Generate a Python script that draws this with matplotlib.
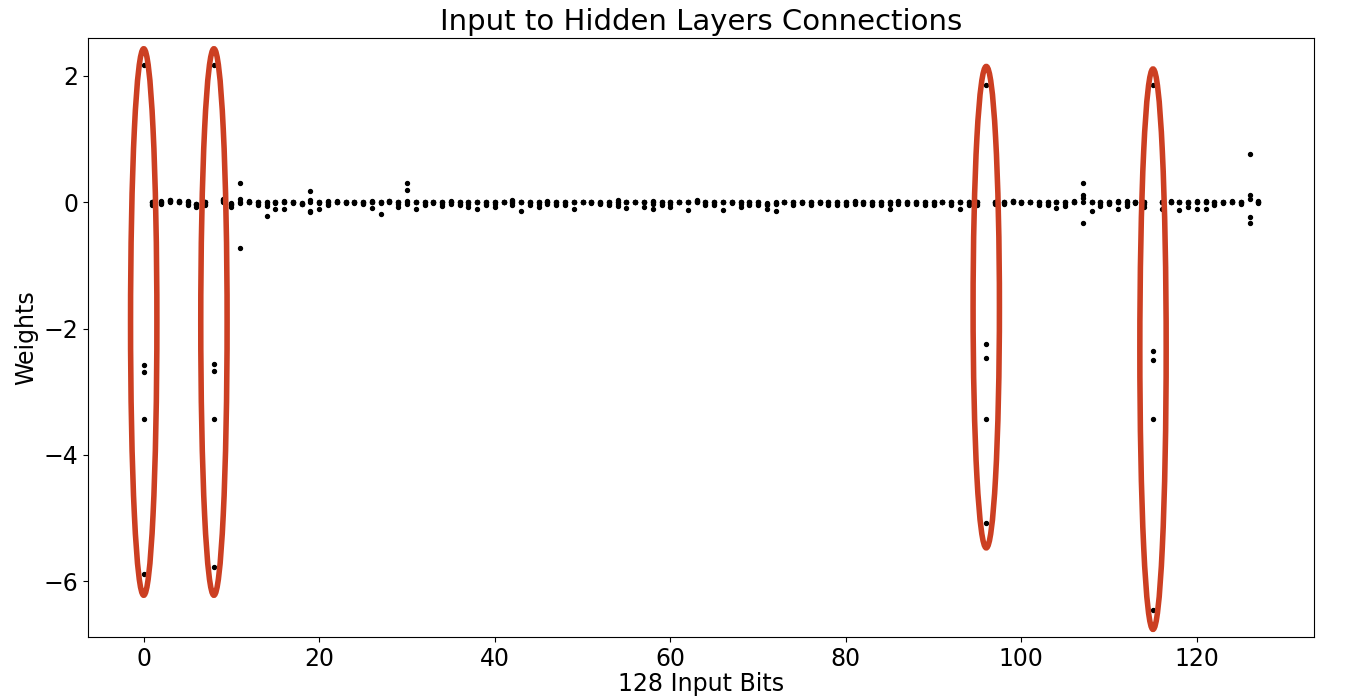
import numpy as np
import matplotlib.pyplot as plt
from matplotlib.patches import Ellipse

# input bit index (x axis)
bits = np.arange(128)

# weights from each input bit to the 5 hidden neurons
w_h1 = [2.17, 0.01, 0.02, 0.03, 0.02, 0.02, -0.02, 0.01, 2.17, 0.05, -0.01, 0.31, 0.02, 0.01, 0.01, 0.01,
        0.02, 0.01, -0.01, 0.18, 0.01, 0.02, 0.02, 0.01, 0.01, 0.01, 0.02, 0.01, 0.02, 0.01, 0.31, 0.01,
        0.01, 0.01, 0.01, 0.02, 0.01, 0.01, 0.01, 0.01, 0.01, 0.01, 0.03, 0.01, 0.01, 0.01, 0.02, 0.01,
        0.01, 0.01, 0.01, 0.01, 0.0, 0.01, 0.03, 0.01, 0.01, 0.01, 0.02, 0.01, 0.01, 0.01, 0.01, 0.03,
        0.01, 0.01, 0.01, 0.01, 0.01, 0.01, 0.01, -0.01, 0.0, 0.01, 0.01, 0.01, 0.01, 0.01, 0.01, 0.01,
        0.01, 0.02, 0.01, 0.01, 0.01, 0.01, 0.02, 0.01, 0.01, 0.01, 0.01, 0.01, 0.01, 0.01, 0.01, 0.01,
        1.86, 0.01, 0.01, 0.02, 0.01, 0.01, 0.01, 0.01, 0.01, 0.01, 0.02, 0.31, 0.01, 0.01, 0.01, 0.02,
        0.02, 0.01, 0.01, 1.86, 0.01, 0.02, 0.01, 0.01, 0.02, 0.02, 0.01, 0.01, 0.02, 0.01, 0.76, 0.02]

w_h2 = [-2.57, 0.0, 0.0, 0.02, 0.01, 0.0, -0.03, 0.0, -2.56, 0.03, -0.03, 0.06, 0.01, 0.0, 0.0, 0.0,
        0.01, 0.0, -0.02, 0.03, 0.0, 0.01, 0.01, 0.0, 0.0, 0.0, 0.01, 0.0, 0.02, 0.0, 0.2, 0.0,
        0.0, 0.0, 0.0, 0.01, 0.0, 0.0, 0.0, 0.0, 0.0, 0.0, 0.02, 0.0, 0.0, 0.0, 0.01, 0.0,
        0.0, 0.0, 0.01, 0.0, -0.01, 0.0, 0.01, 0.0, 0.01, 0.0, 0.0, 0.0, 0.0, 0.01, 0.0, 0.02,
        0.0, 0.0, 0.0, 0.0, 0.0, 0.0, 0.0, -0.02, -0.01, 0.01, 0.0, 0.0, 0.0, 0.0, 0.0, 0.0,
        0.0, 0.01, 0.0, 0.0, 0.0, 0.0, 0.01, 0.0, 0.0, 0.0, 0.0, 0.01, 0.0, 0.0, 0.0, 0.0,
        -2.24, 0.0, 0.0, 0.02, 0.0, 0.01, 0.0, 0.0, 0.0, 0.0, 0.01, 0.12, 0.0, 0.0, 0.0, 0.01,
        0.0, 0.0, 0.0, -2.36, 0.0, 0.01, 0.0, 0.0, 0.01, 0.01, 0.0, 0.0, 0.01, 0.0, 0.11, 0.01]

w_h3 = [-2.69, -0.02, -0.01, 0.02, 0.01, -0.02, -0.05, -0.02, -2.67, 0.02, -0.05, 0.0, 0.0, -0.02, -0.03, -0.01,
        0.0, 0.0, -0.02, 0.0, -0.01, -0.02, 0.0, 0.0, 0.0, -0.01, 0.0, -0.01, 0.01, -0.02, 0.02, 0.0,
        -0.02, 0.0, -0.03, 0.0, -0.03, -0.03, 0.0, -0.03, -0.03, 0.0, -0.01, 0.0, -0.01, -0.03, 0.0, -0.03,
        -0.03, 0.0, 0.0, 0.0, -0.01, -0.02, -0.02, 0.0, 0.0, 0.0, -0.03, -0.02, -0.03, 0.0, 0.0, 0.01,
        -0.02, -0.02, 0.0, 0.0, -0.03, -0.02, -0.02, -0.04, -0.02, 0.0, -0.02, 0.0, -0.03, 0.0, -0.02, -0.03,
        -0.03, 0.0, -0.01, -0.02, -0.03, -0.03, 0.0, -0.01, -0.01, -0.03, -0.02, 0.0, -0.02, 0.0, -0.03, -0.02,
        -2.46, -0.01, -0.01, 0.01, 0.0, 0.0, -0.02, -0.02, 0.0, -0.03, 0.01, 0.07, 0.0, -0.03, -0.01, 0.0,
        -0.03, 0.0, -0.03, -2.5, 0.0, 0.01, 0.0, -0.01, 0.0, 0.0, -0.02, 0.0, 0.01, -0.01, 0.05, 0.0]

w_h4 = [-3.43, -0.05, -0.03, 0.01, 0.0, -0.04, -0.08, -0.04, -3.43, 0.01, -0.08, -0.01, 0.0, -0.04, -0.06, -0.11,
        -0.1, -0.01, -0.03, -0.13, -0.1, -0.05, 0.0, -0.01, -0.01, -0.02, -0.09, -0.18, 0.01, -0.07, 0.0, -0.11,
        -0.04, -0.01, -0.06, -0.02, -0.05, -0.07, -0.1, -0.05, -0.07, 0.0, -0.04, -0.14, -0.04, -0.07, -0.02, -0.05,
        -0.05, -0.11, 0.0, -0.01, -0.02, -0.04, -0.06, -0.09, 0.0, -0.07, -0.11, -0.05, -0.07, 0.0, -0.12, 0.01,
        -0.05, -0.04, -0.12, -0.01, -0.07, -0.05, -0.05, -0.1, -0.14, 0.0, -0.05, -0.01, -0.05, -0.01, -0.04, -0.05,
        -0.05, -0.02, -0.03, -0.04, -0.05, -0.11, -0.02, -0.03, -0.03, -0.05, -0.05, 0.0, -0.04, -0.1, -0.05, -0.04,
        -3.43, -0.03, -0.03, 0.0, -0.01, 0.0, -0.04, -0.04, -0.09, -0.06, 0.0, 0.0, -0.14, -0.06, -0.03, -0.1,
        -0.06, -0.01, -0.08, -3.43, -0.1, 0.0, -0.12, -0.08, -0.1, -0.1, -0.05, -0.01, 0.0, -0.03, -0.24, -0.01]

w_h5 = [-5.88, 0.0, 0.01, 0.03, 0.02, 0.01, -0.03, 0.0, -5.78, 0.04, -0.02, -0.72, 0.01, 0.0, -0.22, 0.0,
        0.01, 0.01, -0.01, -0.16, 0.0, 0.0, 0.01, 0.0, 0.0, 0.0, 0.01, 0.0, 0.02, 0.0, -0.02, 0.0,
        0.0, 0.0, 0.0, 0.01, 0.0, 0.0, 0.0, 0.0, 0.0, 0.01, 0.01, 0.0, 0.0, 0.0, 0.01, 0.0,
        0.0, 0.0, 0.01, 0.0, 0.0, 0.0, 0.0, 0.0, 0.01, 0.0, 0.0, 0.0, 0.0, 0.01, 0.0, 0.02,
        0.0, 0.0, 0.0, 0.0, 0.0, 0.0, 0.0, -0.02, -0.01, 0.01, 0.0, 0.0, 0.0, 0.0, 0.0, 0.0,
        0.0, 0.01, 0.0, 0.0, 0.0, 0.0, 0.01, 0.0, 0.0, 0.0, 0.0, 0.01, 0.0, 0.0, 0.0, 0.0,
        -5.07, 0.0, 0.0, 0.02, 0.0, 0.01, 0.0, 0.0, 0.0, 0.0, 0.01, -0.32, 0.0, 0.0, 0.0, 0.01,
        0.0, 0.0, 0.0, -6.45, 0.0, 0.01, 0.0, 0.0, 0.0, 0.0, 0.0, 0.0, 0.01, 0.0, -0.32, 0.01]

# highlighted bits: (bit, top of ellipse, bottom of ellipse)
hl_bits = [0, 8, 96, 115]
hl_top = [2.43, 2.43, 2.15, 2.11]
hl_bottom = [-6.22, -6.22, -5.47, -6.76]

fig, ax = plt.subplots(figsize=(13.62, 6.96), dpi=100)
fig.subplots_adjust(left=0.0646, right=0.9648, top=0.9454, bottom=0.0848)

for w in [w_h1, w_h2, w_h3, w_h4, w_h5]:
    ax.scatter(bits, w, s=8, color='black', zorder=3)

ax.autoscale_view()
ax.set_autoscale_on(False)

for b, top, bot in zip(hl_bits, hl_top, hl_bottom):
    ax.add_patch(Ellipse((b, (top + bot) / 2), width=3.0, height=top - bot,
                         fill=False, edgecolor='#CC3F22', linewidth=4, zorder=4))

ax.set_title('Input to Hidden Layers Connections', fontsize=21)
ax.set_xlabel('128 Input Bits', fontsize=17, labelpad=1)
ax.set_ylabel('Weights', fontsize=17)
ax.tick_params(labelsize=17)

plt.savefig('out.png')
